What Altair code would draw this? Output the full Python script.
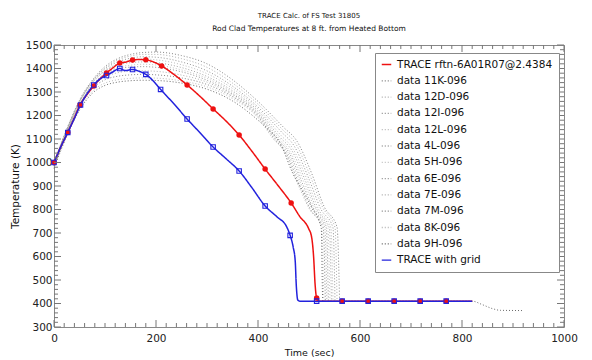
import altair as alt
import pandas as pd

FONT = "DejaVu Sans"

# ---------------- data ----------------
SERIES = ["TRACE rftn-6A01R07@2.4384", "data 11K-096", "data 12D-096", "data 12I-096",
          "data 12L-096", "data 4L-096", "data 5H-096", "data 6E-096", "data 7E-096",
          "data 7M-096", "data 8K-096", "data 9H-096", "TRACE with grid"]
COLORS = ["#ee1111", "#777777", "#a8a8a8", "#8a8a8a", "#b4b4b4", "#999999", "#bdbdbd",
          "#888888", "#a8a8a8", "#7a7a7a", "#b4b4b4", "#5a5a5a", "#2222dd"]
DASHES = [[1, 0]] + [[1, 2]] * 11 + [[1, 0]]

BASE_T = [0, 25, 50, 75, 100, 125, 150, 175, 200, 250, 300, 350, 400]

D_11K = [1000, 1142, 1265, 1350, 1408, 1442, 1460, 1468, 1470, 1455, 1420, 1352, 1260]
D_12D = [995, 1138, 1260, 1346, 1402, 1436, 1453, 1460, 1460, 1442, 1405, 1338, 1248]
D_12I = [1005, 1140, 1262, 1345, 1398, 1428, 1444, 1450, 1448, 1428, 1390, 1325, 1236]
D_12L = [990, 1132, 1252, 1338, 1390, 1420, 1434, 1440, 1437, 1416, 1378, 1315, 1228]
D_4L = [1000, 1136, 1256, 1340, 1390, 1415, 1425, 1428, 1425, 1404, 1366, 1305, 1220]
D_5H = [985, 1126, 1246, 1330, 1380, 1404, 1414, 1418, 1415, 1394, 1358, 1298, 1213]
D_6E = [995, 1130, 1248, 1330, 1376, 1398, 1406, 1408, 1405, 1386, 1350, 1292, 1208]
D_7E = [990, 1126, 1242, 1322, 1364, 1382, 1389, 1390, 1388, 1372, 1342, 1286, 1202]
D_7M = [985, 1122, 1236, 1314, 1352, 1367, 1373, 1375, 1373, 1360, 1332, 1280, 1196]
D_8K = [980, 1117, 1229, 1302, 1338, 1352, 1358, 1360, 1359, 1347, 1322, 1272, 1190]
D_9H = [975, 1112, 1222, 1294, 1328, 1342, 1348, 1350, 1349, 1338, 1312, 1262, 1180]

TAIL_T = {
    "data 11K-096": [450, 476, 505, 530, 555, 560],
    "data 12D-096": [448, 474, 502, 527, 551, 555],
    "data 12I-096": [446, 471, 499, 523, 547, 551],
    "data 12L-096": [444, 468, 496, 519, 543, 547],
    "data 4L-096": [442, 466, 493, 516, 540, 544],
    "data 5H-096": [440, 463, 490, 513, 537, 541],
    "data 6E-096": [438, 461, 487, 510, 534, 538],
    "data 7E-096": [436, 458, 484, 507, 531, 535],
    "data 7M-096": [434, 455, 480, 503, 528, 532],
    "data 8K-096": [430, 452, 476, 500, 525, 529],
    "data 9H-096": [420, 440, 468, 505, 524, 527, 600, 700, 820, 840, 860, 875, 920],
}
TAIL_K = {
    "data 11K-096": [1150, 1092, 955, 811, 725, 410],
    "data 12D-096": [1140, 1080, 945, 808, 724, 410],
    "data 12I-096": [1130, 1070, 935, 803, 723, 410],
    "data 12L-096": [1118, 1060, 928, 800, 722, 410],
    "data 4L-096": [1110, 1052, 922, 798, 721, 410],
    "data 5H-096": [1105, 1046, 918, 800, 720, 410],
    "data 6E-096": [1100, 1042, 912, 798, 721, 410],
    "data 7E-096": [1098, 1040, 910, 800, 721, 410],
    "data 7M-096": [1096, 1040, 912, 800, 721, 410],
    "data 8K-096": [1100, 1045, 918, 805, 722, 410],
    "data 9H-096": [1140, 1096, 955, 811, 721, 410, 410, 410, 410, 395, 378, 371, 370],
}
DATA_BASE = {
    "data 11K-096": D_11K, "data 12D-096": D_12D, "data 12I-096": D_12I,
    "data 12L-096": D_12L, "data 4L-096": D_4L, "data 5H-096": D_5H,
    "data 6E-096": D_6E, "data 7E-096": D_7E, "data 7M-096": D_7M,
    "data 8K-096": D_8K, "data 9H-096": D_9H,
}

RED_T = [0, 13, 27, 40, 51, 65, 78, 90, 103, 115, 129, 140, 154, 167, 180, 195, 211, 235,
         261, 287, 312, 338, 363, 388, 414, 440, 465, 482, 499, 505, 509, 512, 515, 520, 820]
RED_K = [1000, 1065, 1128, 1190, 1245, 1290, 1326, 1355, 1381, 1402, 1423, 1427, 1436, 1438,
         1437, 1428, 1411, 1375, 1330, 1280, 1228, 1175, 1117, 1048, 972, 900, 828, 770, 720,
         684, 600, 480, 423, 410, 410]
RED_MT = [0, 27, 51, 78, 103, 129, 154, 180, 211, 261, 312, 363, 414, 465, 515, 565, 616,
          667, 718, 769]
RED_MK = [1000, 1128, 1245, 1326, 1381, 1423, 1436, 1437, 1411, 1330, 1228, 1117, 972, 828,
          423, 410, 410, 410, 410, 410]

BLUE_T = [0, 13, 27, 40, 52, 65, 78, 90, 103, 115, 129, 140, 154, 167, 180, 195, 209, 235,
          261, 287, 312, 338, 363, 388, 414, 437, 456, 463, 469, 473, 475, 478, 482, 820]
BLUE_K = [1000, 1065, 1128, 1188, 1245, 1293, 1330, 1355, 1370, 1385, 1400, 1391, 1396,
          1388, 1375, 1346, 1311, 1250, 1185, 1125, 1066, 1015, 964, 893, 815, 769, 727,
          690, 640, 580, 480, 415, 410, 410]
BLUE_MT = [0, 27, 52, 78, 103, 129, 154, 180, 209, 261, 312, 363, 414, 463, 515, 565, 616,
           667, 718, 769]
BLUE_MK = [1000, 1128, 1245, 1330, 1370, 1400, 1396, 1375, 1311, 1185, 1066, 964, 815, 690,
           410, 410, 410, 410, 410, 410]

X_MAJOR = [0, 200, 400, 600, 800, 1000]
X_MINOR = [v for v in range(20, 1000, 20) if v % 200]
Y_MAJOR = [300, 400, 500, 600, 700, 800, 900, 1000, 1100, 1200, 1300, 1400, 1500]
Y_MINOR = [v for v in range(320, 1500, 20) if v % 100]

W, H = 510, 282

# ---------------- frames ----------------
rows = []
for name in SERIES[1:-1]:
    ts = BASE_T + TAIL_T[name]
    ks = DATA_BASE[name] + TAIL_K[name]
    for t, k in zip(ts, ks):
        rows.append({"series": name, "t": t, "k": k})
df_data = pd.DataFrame(rows)
df_red = pd.DataFrame({"series": SERIES[0], "t": RED_T, "k": RED_K})
df_blue = pd.DataFrame({"series": SERIES[-1], "t": BLUE_T, "k": BLUE_K})
df_red_m = pd.DataFrame({"t": RED_MT, "k": RED_MK})
df_blue_m = pd.DataFrame({"t": BLUE_MT, "k": BLUE_MK})

XT = "Time (sec)"
YT = "Temperature (K)"
xs = alt.Scale(domain=[0, 1000], nice=False)
ys = alt.Scale(domain=[300, 1500], nice=False, zero=False)
XAX = alt.Axis(values=X_MAJOR, format="d")
YAX = alt.Axis(values=Y_MAJOR, format="d")

legend = alt.Legend(title=None, orient="none", legendX=321, legendY=8,
                    fillColor="white", strokeColor="#888888", padding=6,
                    symbolType="stroke", symbolSize=90, symbolStrokeWidth=1.3,
                    labelFontSize=10.5, labelFont=FONT, rowPadding=5.3, labelOffset=5,
                    labelColor="#111111", cornerRadius=0)

col = alt.Color("series:N", scale=alt.Scale(domain=SERIES, range=COLORS), legend=legend)
dash = alt.StrokeDash("series:N", scale=alt.Scale(domain=SERIES, range=DASHES), legend=legend)


def X(field="t"):
    return alt.X(f"{field}:Q", scale=xs, title=XT, axis=XAX)


def Y(field="k"):
    return alt.Y(f"{field}:Q", scale=ys, title=YT, axis=YAX)


data_lines = alt.Chart(df_data).mark_line(interpolate="monotone", strokeWidth=0.9).encode(
    x=X(), y=Y(), color=col, strokeDash=dash, detail="series:N")
red_line = alt.Chart(df_red).mark_line(interpolate="monotone", strokeWidth=1.5).encode(
    x=X(), y=Y(), color=col, strokeDash=dash)
blue_line = alt.Chart(df_blue).mark_line(interpolate="monotone", strokeWidth=1.5).encode(
    x=X(), y=Y(), color=col, strokeDash=dash)
red_pts = alt.Chart(df_red_m).mark_point(shape="circle", filled=True, size=30,
                                         color="#ee1111", opacity=1).encode(x=X(), y=Y())
blue_pts = alt.Chart(df_blue_m).mark_point(shape="square", filled=False, size=20,
                                           color="#2222dd", strokeWidth=1.1,
                                           opacity=1).encode(x=X(), y=Y())

TC = "#777777"


def xticks(vals, y1, y2):
    return alt.Chart(pd.DataFrame({"t": vals})).mark_rule(color=TC, strokeWidth=1).encode(
        x=X(), y=alt.value(y1), y2=alt.value(y2))


def yticks(vals, x1, x2):
    return alt.Chart(pd.DataFrame({"k": vals})).mark_rule(color=TC, strokeWidth=1).encode(
        y=Y(), x=alt.value(x1), x2=alt.value(x2))


ticks = [
    xticks(X_MAJOR, H, H - 7), xticks(X_MINOR, H, H - 4),
    xticks(X_MAJOR, 0, 7), xticks(X_MINOR, 0, 4),
    yticks(Y_MAJOR, 0, 7), yticks(Y_MINOR, 0, 4),
    yticks(Y_MAJOR, W, W - 7), yticks(Y_MINOR, W, W - 4),
]

chart = alt.layer(data_lines, red_line, blue_line, red_pts, blue_pts, *ticks).properties(
    width=W, height=H,
    autosize=alt.AutoSizeParams(type="none"),
    padding={"left": 54, "top": 45, "right": 28, "bottom": 33},
    title=alt.TitleParams(text="TRACE Calc. of FS Test 31805",
                          subtitle="Rod Clad Temperatures at 8 ft. from Heated Bottom",
                          fontSize=7, subtitleFontSize=7.5, font=FONT, subtitleFont=FONT,
                          fontWeight="normal", color="#111111", subtitleColor="#111111",
                          anchor="middle", offset=8, subtitlePadding=6),
).configure_view(stroke="#888888", strokeWidth=1).configure_axis(
    grid=False, ticks=False, tickSize=0, domain=False,
    labelFont=FONT, labelFontSize=10.5, labelColor="#222222",
    titleFont=FONT, titleFontWeight="normal", titleColor="#111111",
).configure_axisX(labelPadding=6, titleFontSize=9.5, titlePadding=4, labelFlush=False
).configure_axisY(labelPadding=2, titleFontSize=10.5, titlePadding=5)

chart.save("out.html", embed_options={"renderer": "svg", "actions": False})
